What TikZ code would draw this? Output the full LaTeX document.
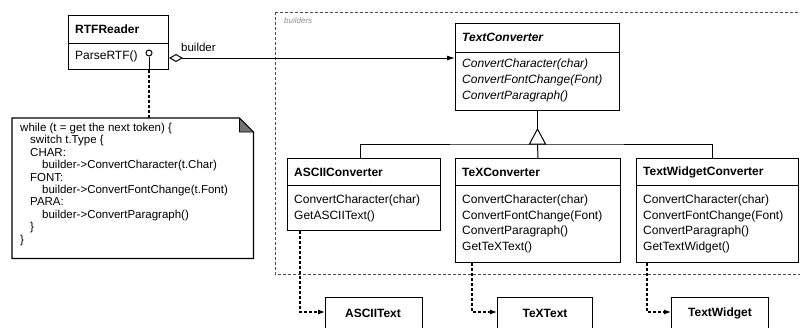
\documentclass[tikz,border=0pt]{standalone}
\usepackage{fontspec}
\setmainfont{Liberation Sans}
\usetikzlibrary{arrows.meta,calc}
\begin{document}
\begin{tikzpicture}[x=1pt,y=-1pt,
  box/.style={draw,line width=1pt,anchor=north west,inner sep=0pt},
  hdr/.style={anchor=west,inner sep=0pt,font=\fontsize{12}{13}\selectfont\bfseries},
  hdri/.style={hdr,font=\fontsize{12}{13}\selectfont\bfseries\itshape},
  meth/.style={anchor=north west,align=left,inner sep=0pt,font=\fontsize{12}{15.6}\selectfont},
  methi/.style={meth,font=\fontsize{12}{16}\selectfont\itshape},
  notetext/.style={anchor=north west,align=left,inner sep=0pt,font=\fontsize{11.5}{12.4}\selectfont},
  conn/.style={line width=1pt},
  dep/.style={line width=1.1pt,densely dashed},
  arr/.style={-{Latex[length=7pt,width=5pt]}}
]
\useasboundingbox (0,0) rectangle (800,327);

% package
\draw[densely dashed,line width=0.8pt,black!70] (275,12) rectangle (812,274);
\node[anchor=west,inner sep=0pt,font=\fontsize{8}{9}\selectfont\itshape,text=black!45] (pkg) at (284,21) {builders};

% RTFReader
\node[box,minimum width=100pt,minimum height=54pt] (rtf) at (68,15) {};
\draw[line width=1pt] ([yshift=-28pt]rtf.north west) -- ([yshift=-28pt]rtf.north east);
\node[hdr] (rtfh) at (75,29) {RTFReader};
\node[anchor=west,inner sep=0pt,font=\fontsize{12}{13}\selectfont] (rtfm) at (75,56) {ParseRTF()};
\node[draw,circle,line width=1pt,minimum size=6pt,inner sep=0pt] (circ) at (149,53) {};

% TextConverter
\node[box,minimum width=164pt,minimum height=87pt] (tc) at (455,23) {};
\draw[line width=1pt] ([yshift=-29pt]tc.north west) -- ([yshift=-29pt]tc.north east);
\node[hdri] (tch) at (462,37) {TextConverter};
\node[methi] (tcm) at (462,58.5) {ConvertCharacter(char)\\ConvertFontChange(Font)\\ConvertParagraph()};

% aggregation
\coordinate (agg) at (rtf.east |- 0,58);
\draw[conn,{Diamond[open,length=14pt,width=8pt,line width=1pt]}-{Latex[length=8pt,width=5pt]}] (agg) -- (agg -| tc.west);
\node[anchor=west,inner sep=0pt,font=\fontsize{11.5}{12}\selectfont] (bl) at (181,47) {builder};

% subclasses
\node[box,minimum width=153pt,minimum height=72pt] (asc) at (287,158) {};
\draw[line width=1pt] ([yshift=-27pt]asc.north west) -- ([yshift=-27pt]asc.north east);
\node[hdr] (asch) at (294,172) {ASCIIConverter};
\node[meth] (ascm) at (294,194.5) {ConvertCharacter(char)\\GetASCIIText()};

\node[box,minimum width=165pt,minimum height=104pt] (tex) at (455,158) {};
\draw[line width=1pt] ([yshift=-27pt]tex.north west) -- ([yshift=-27pt]tex.north east);
\node[hdr] (texh) at (462,172) {TeXConverter};
\node[meth] (texm) at (462,194.5) {ConvertCharacter(char)\\ConvertFontChange(Font)\\ConvertParagraph()\\GetTeXText()};

\node[box,minimum width=162pt,minimum height=104pt] (tw) at (636,158) {};
\draw[line width=1pt] ([yshift=-27pt]tw.north west) -- ([yshift=-27pt]tw.north east);
\node[hdr] (twh) at (643,172) {TextWidgetConverter};
\node[meth] (twm) at (643,194.5) {ConvertCharacter(char)\\ConvertFontChange(Font)\\ConvertParagraph()\\GetTextWidget()};

% inheritance
\coordinate (tri) at ([yshift=-18pt]tc.south);
\coordinate (bar) at ([yshift=-33pt]tc.south);
\draw[conn] (tc.south) -- (tri);
\draw[conn] ([xshift=-3.5pt]asc.north) |- (bar) -| ([xshift=-5pt]tw.north);
\draw[conn] (bar) -- (tex.north);
\draw[conn,fill=white,line join=miter] (tri) -- ([xshift=8pt]bar) -- ([xshift=-8pt]bar) -- cycle;

% products
\node[box,minimum width=97pt,minimum height=40pt] (at) at (325,297) {};
\node[hdr,anchor=center] (atl) at (373,313) {ASCIIText};
\node[box,minimum width=95pt,minimum height=40pt] (tt) at (497,297) {};
\node[hdr,anchor=center] (ttl) at (545,313) {TeXText};
\node[box,minimum width=97pt,minimum height=40pt] (tww) at (671,297) {};
\node[hdr,anchor=center] (twl) at (720,313) {TextWidget};

\coordinate (d1) at (300,312);
\coordinate (d2) at (472,312);
\coordinate (d3) at (647,312);
\draw[dep,arr] (d1 |- asc.south) -- (d1) -- (d1 -| at.west);
\draw[dep,arr] (d2 |- tex.south) -- (d2) -- (d2 -| tt.west);
\draw[dep,arr] (d3 |- tw.south) -- (d3) -- (d3 -| tww.west);

% note
\node[minimum width=241pt,minimum height=140pt,anchor=north west,inner sep=0pt] (note) at (12,118) {};
\draw[line width=1.2pt] (note.north west) -- ([xshift=-14pt]note.north east) -- ([yshift=-14pt]note.north east) -- (note.south east) -- (note.south west) -- cycle;
\draw[line width=0.8pt,fill=black!55] ([xshift=-14pt]note.north east) -- ([xshift=-14pt,yshift=-14pt]note.north east) -- ([yshift=-14pt]note.north east) -- cycle;
\node[notetext] (nt) at (20,123) {while (t = get the next token) \{\\
\hspace*{10pt}switch t.Type \{\\
\hspace*{10pt}CHAR:\\
\hspace*{22pt}builder->ConvertCharacter(t.Char)\\
\hspace*{10pt}FONT:\\
\hspace*{22pt}builder->ConvertFontChange(t.Font)\\
\hspace*{10pt}PARA:\\
\hspace*{22pt}builder->ConvertParagraph()\\
\hspace*{10pt}\}\\
\}};

\draw[conn] (circ.south) -- (circ.south |- rtf.south);
\draw[dep] (circ.south |- rtf.south) -- (circ.south |- note.north);
\end{tikzpicture}
\end{document}
